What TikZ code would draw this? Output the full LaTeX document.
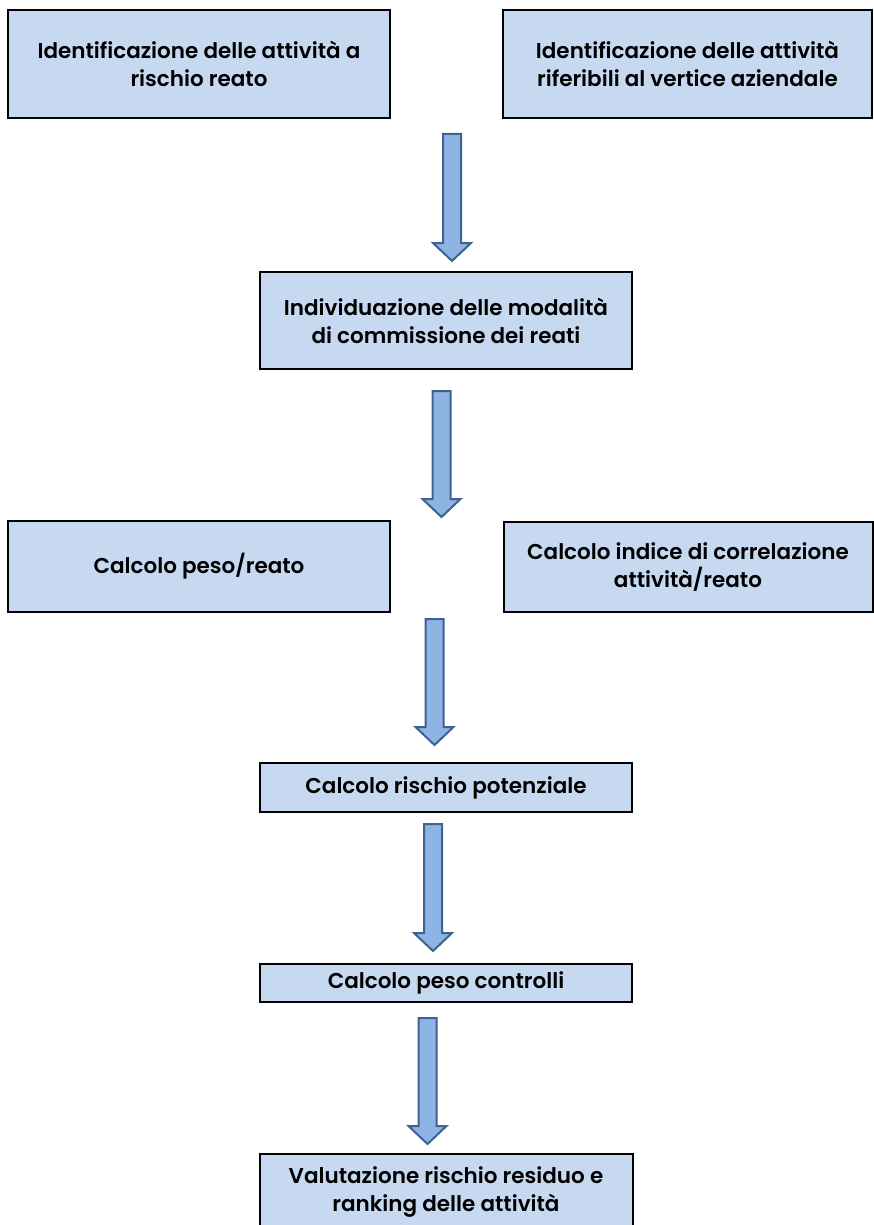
\documentclass[tikz,border=0pt]{standalone}
\usepackage{fontspec}
\setmainfont{Poppins}[BoldFont={* SemiBold}]
\definecolor{boxfill}{HTML}{C6D9F1}
\definecolor{arrowfill}{HTML}{8EB4E3}
\definecolor{arrowline}{HTML}{3F6391}
\begin{document}
\begin{tikzpicture}[x=1pt,y=-1pt,
    stepbox/.style={draw=black,line width=2pt,fill=boxfill,rectangle,
      align=center,inner sep=0pt,font=\fontsize{21.5}{28}\selectfont\bfseries},
    flowarrow/.style={draw=arrowline,line width=2pt,fill=arrowfill,line join=miter}]
  \useasboundingbox (0,0) rectangle (873,1225);
  \node[stepbox,minimum width=382pt,minimum height=108pt] (A) at (199,64)
    {Identificazione delle attività a\\rischio reato};
  \node[stepbox,minimum width=369pt,minimum height=108pt] (B) at (687.5,64)
    {Identificazione delle attività\\riferibili al vertice aziendale};
  \node[stepbox,minimum width=372pt,minimum height=97pt] (C) at (446,320.5)
    {Individuazione delle modalità\\di commissione dei reati};
  \node[stepbox,minimum width=382pt,minimum height=91pt] (D) at (199,566.5)
    {Calcolo peso/reato};
  \node[stepbox,minimum width=369pt,minimum height=90pt] (E) at (688,567)
    {Calcolo indice di correlazione\\attività/reato};
  \node[stepbox,minimum width=372pt,minimum height=49pt] (F) at (446,787.5)
    {Calcolo rischio potenziale};
  \node[stepbox,minimum width=372pt,minimum height=38pt] (G) at (446,983)
    {Calcolo peso controlli};
  \node[stepbox,minimum width=373pt,minimum height=76pt] (H) at (446,1192)
    {Valutazione rischio residuo e\\ranking delle attività};
  % block arrows: centre x / top / tip
  \foreach \cx/\top/\tip in {452/134/261, 441.5/391/517, 434.5/619/745,
                             433/824/951, 427.5/1018/1144}
    \draw[flowarrow] ({\cx-9},\top) -- ({\cx+9},\top) -- ({\cx+9},{\tip-18})
      -- ({\cx+19},{\tip-18}) -- (\cx,\tip) -- ({\cx-19},{\tip-18})
      -- ({\cx-9},{\tip-18}) -- cycle;
\end{tikzpicture}
\end{document}
